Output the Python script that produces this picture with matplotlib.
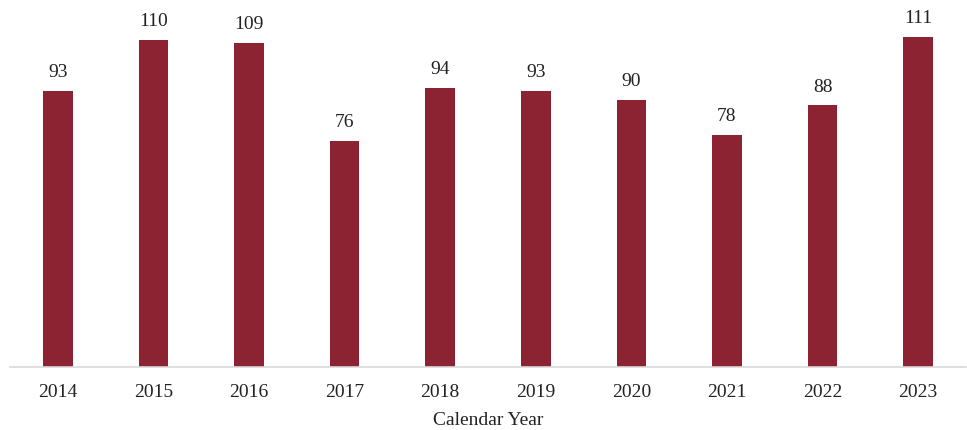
import matplotlib
matplotlib.use("Agg")
import matplotlib.pyplot as plt
import numpy as np

years = ["2014", "2015", "2016", "2017", "2018", "2019", "2020", "2021", "2022", "2023"]
counts = [93, 110, 109, 76, 94, 93, 90, 78, 88, 111]

bar_color = "#8B2332"

plt.rcParams["font.family"] = ["Liberation Serif", "DejaVu Serif"]

fig = plt.figure(figsize=(9.67, 4.3), dpi=100)
ax = fig.add_axes([10 / 967, 63 / 430, 956 / 967, 367 / 430])

x = np.arange(len(years))
bars = ax.bar(x, counts, width=0.31, color=bar_color)

for xi, v in zip(x, counts):
    ax.annotate(str(v), (xi, v), xytext=(0, 7), textcoords="offset points",
                ha="center", va="bottom", fontsize=14, color="#222222")

ax.set_xlim(-0.5, len(years) - 0.5)
ax.set_ylim(0, 123.5)
ax.set_xticks(x)
ax.set_xticklabels(years, fontsize=14, color="#222222")
ax.tick_params(axis="x", length=0, pad=12)
ax.set_yticks([])
ax.set_xlabel("Calendar Year", fontsize=14, color="#222222", labelpad=8)

for s in ["top", "right", "left"]:
    ax.spines[s].set_visible(False)
ax.spines["bottom"].set_color("#d9d9d9")
ax.spines["bottom"].set_linewidth(1.2)

fig.savefig("out.png", dpi=100)
